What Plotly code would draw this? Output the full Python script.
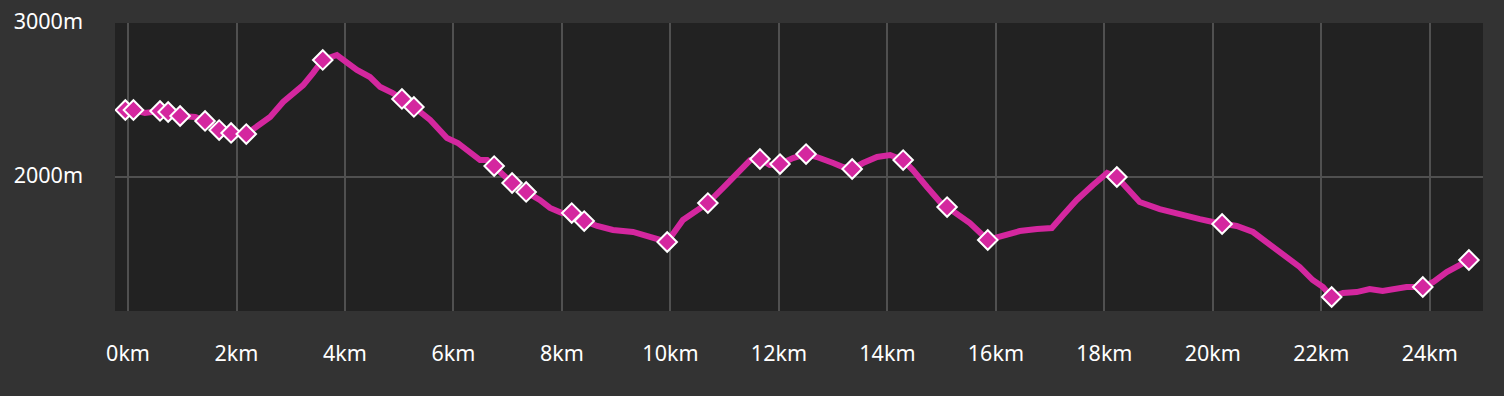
import plotly.graph_objects as go

# Elevation profile (track)
track_km = [-0.05, 0.1, 0.31, 0.59, 0.74, 0.96, 1.24, 1.42, 1.68, 1.90, 2.18, 2.38, 2.62, 2.86, 3.04,
            3.23, 3.41, 3.59, 3.85, 3.96, 4.22, 4.46, 4.65, 4.88, 5.05, 5.27, 5.57, 5.88, 6.08,
            6.30, 6.49, 6.62, 6.75, 7.08, 7.34, 7.59, 7.78, 8.0, 8.18, 8.41, 8.65, 8.94, 9.31,
            9.57, 9.81, 9.94, 10.23, 10.49, 10.69, 10.97, 11.23, 11.47, 11.65, 11.83, 12.02,
            12.26, 12.5, 12.70, 13.0, 13.18, 13.35, 13.55, 13.81, 14.05, 14.29, 14.47, 14.73,
            14.97, 15.10, 15.34, 15.52, 15.85, 16.13, 16.44, 16.76, 17.03, 17.24, 17.49, 17.79,
            18.05, 18.23, 18.41, 18.65, 19.02, 19.34, 19.76, 20.0, 20.17, 20.44, 20.74, 21.0,
            21.29, 21.60, 21.84, 22.03, 22.19, 22.40, 22.65, 22.89, 23.13, 23.32, 23.57, 23.87,
            24.06, 24.31, 24.50, 24.72]
track_ele = [2435, 2435, 2416, 2429, 2422, 2396, 2390, 2364, 2305, 2286, 2279, 2325, 2390, 2487, 2545,
             2597, 2675, 2760, 2792, 2760, 2695, 2649, 2584, 2545, 2507, 2455, 2370, 2253, 2221,
             2156, 2110, 2110, 2071, 1961, 1903, 1851, 1799, 1766, 1766, 1714, 1682, 1656, 1643,
             1617, 1591, 1578, 1721, 1786, 1831, 1929, 2026, 2110, 2117, 2078, 2084,
             2123, 2149, 2130, 2091, 2065, 2052, 2091, 2130, 2143, 2110, 2045, 1935,
             1838, 1805, 1747, 1701, 1591, 1623, 1649, 1662, 1669, 1753, 1851, 1948,
             2026, 2000, 1935, 1838, 1792, 1760, 1727, 1708, 1695, 1682, 1643, 1571,
             1493, 1416, 1331, 1286, 1221, 1247, 1253, 1273, 1260, 1273, 1286, 1286,
             1318, 1383, 1416, 1461]

# Waypoint markers
wp_km = [-0.05, 0.1, 0.59, 0.74, 0.96, 1.42, 1.68, 1.90, 2.18, 3.59, 5.05, 5.27, 6.75, 7.08, 7.34,
         8.18, 8.41, 9.94, 10.69, 11.65, 12.02, 12.5, 13.35, 14.29, 15.10, 15.85, 18.23, 20.17,
         22.19, 23.87, 24.72]
wp_ele = [2435, 2435, 2429, 2422, 2396, 2364, 2305, 2286, 2279, 2760, 2507, 2455, 2071, 1961, 1903,
          1766, 1714, 1578, 1831, 2117, 2084, 2149, 2052, 2110, 1805, 1591, 2000, 1695,
          1221, 1286, 1461]

x_ticks = list(range(0, 25, 2))
x_tick_text = [f"{v}km" for v in x_ticks]
y_ticks = [2000, 3000]
y_tick_text = ["2000m", "3000m"]

LINE = "#d4279f"

fig = go.Figure()
fig.add_trace(go.Scatter(x=track_km, y=track_ele, mode="lines",
                         line=dict(color=LINE, width=6), hoverinfo="skip"))
fig.add_trace(go.Scatter(x=wp_km, y=wp_ele, mode="markers",
                         marker=dict(symbol="diamond", size=15, color=LINE,
                                     line=dict(color="white", width=2))))

fig.update_layout(
    width=1504, height=396,
    margin=dict(l=115, r=21, t=23, b=85),
    paper_bgcolor="#333333",
    plot_bgcolor="#222222",
    showlegend=False,
    font=dict(family="Noto Sans", size=21.5, color="#ffffff"),
)
fig.update_xaxes(range=[-0.24, 24.98], tickvals=x_ticks, ticktext=x_tick_text,
                 showgrid=True, gridcolor="#505050", gridwidth=2, zeroline=False,
                 showline=False, ticks="", ticklabelstandoff=27, automargin=False)
fig.update_yaxes(range=[1130, 3000], tickvals=y_ticks, ticktext=y_tick_text,
                 showgrid=True, gridcolor="#505050", gridwidth=2, zeroline=False,
                 showline=False, ticks="", ticklabelstandoff=31, ticklabelshift=-2,
                 automargin=False)

fig.write_html("out.html")
